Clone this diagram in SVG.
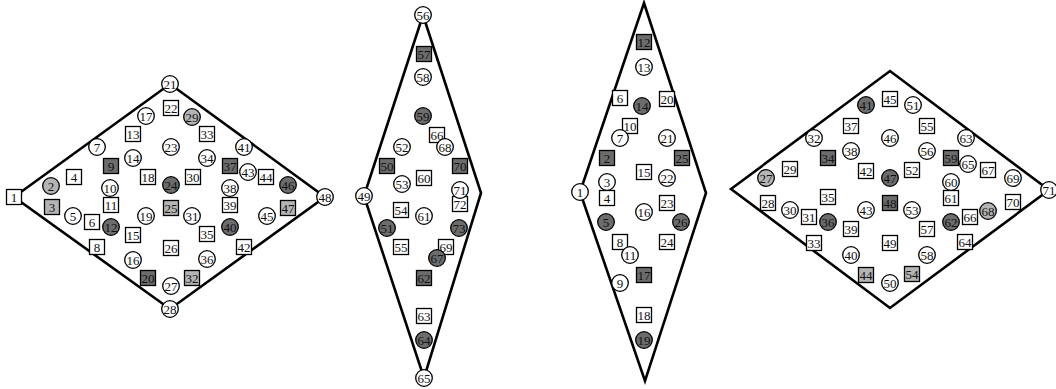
<svg xmlns="http://www.w3.org/2000/svg" width="1056" height="389" viewBox="0 0 1056 389">
<style>
.o{fill:none;stroke:#000;stroke-width:2.6;stroke-linejoin:miter}
.c,.cd,.cl,.s,.sd,.sl{stroke:#000;stroke-width:1.3}
.c,.s{fill:#fff}
.cd,.sd{fill:#6c6c6c}
.cl,.sl{fill:#b4b4b4}
text{font-family:"Liberation Serif","Times New Roman",serif;font-size:13px;text-anchor:middle;fill:#111}
</style>
<rect width="1056" height="389" fill="#fff"/>
<g id="outlines">
<polygon class="o" points="14,197 170,84 325,197 170,309"/>
<polygon class="o" points="423,15 481,193 424,378 364,196"/>
<polygon class="o" points="644,3 706,193 645,381 580,192"/>
<polygon class="o" points="731,189 890,71 1049,190 890,308"/>
</g>
<g id="diagram1">
<g id="d1-n1"><rect class="s" x="6.5" y="189.5" width="15" height="15"/><text x="14" y="201.5">1</text></g>
<g id="d1-n2"><circle class="cl" cx="51" cy="186" r="8.3"/><text x="51" y="190.5">2</text></g>
<g id="d1-n3"><rect class="sl" x="44.5" y="199.5" width="15" height="15"/><text x="52" y="211.5">3</text></g>
<g id="d1-n4"><rect class="s" x="66.5" y="169.5" width="15" height="15"/><text x="74" y="181.5">4</text></g>
<g id="d1-n5"><circle class="c" cx="73" cy="216" r="8.3"/><text x="73" y="220.5">5</text></g>
<g id="d1-n6"><rect class="s" x="84.5" y="214.5" width="15" height="15"/><text x="92" y="226.5">6</text></g>
<g id="d1-n7"><circle class="c" cx="97" cy="147" r="8.3"/><text x="97" y="151.5">7</text></g>
<g id="d1-n8"><rect class="s" x="89.5" y="239.5" width="15" height="15"/><text x="97" y="251.5">8</text></g>
<g id="d1-n9"><rect class="sd" x="103.5" y="158.5" width="15" height="15"/><text x="111" y="170.5">9</text></g>
<g id="d1-n11"><rect class="s" x="103.5" y="197.5" width="15" height="15"/><text x="111" y="209.5">11</text></g>
<g id="d1-n10"><circle class="c" cx="110" cy="188" r="8.3"/><text x="110" y="192.5">10</text></g>
<g id="d1-n12"><circle class="cd" cx="111" cy="227" r="8.3"/><text x="111" y="231.5">12</text></g>
<g id="d1-n13"><rect class="s" x="125.5" y="126.5" width="15" height="15"/><text x="133" y="138.5">13</text></g>
<g id="d1-n14"><circle class="c" cx="133" cy="158" r="8.3"/><text x="133" y="162.5">14</text></g>
<g id="d1-n15"><rect class="s" x="125.5" y="227.5" width="15" height="15"/><text x="133" y="239.5">15</text></g>
<g id="d1-n16"><circle class="c" cx="133" cy="260" r="8.3"/><text x="133" y="264.5">16</text></g>
<g id="d1-n17"><circle class="c" cx="146" cy="116" r="8.3"/><text x="146" y="120.5">17</text></g>
<g id="d1-n18"><rect class="s" x="140.5" y="169.5" width="15" height="15"/><text x="148" y="181.5">18</text></g>
<g id="d1-n19"><circle class="c" cx="146" cy="216" r="8.3"/><text x="146" y="220.5">19</text></g>
<g id="d1-n20"><rect class="sd" x="140.5" y="270.5" width="15" height="15"/><text x="148" y="282.5">20</text></g>
<g id="d1-n21"><circle class="c" cx="170" cy="84" r="8.3"/><text x="170" y="88.5">21</text></g>
<g id="d1-n22"><rect class="s" x="163.5" y="100.5" width="15" height="15"/><text x="171" y="112.5">22</text></g>
<g id="d1-n23"><circle class="c" cx="171" cy="147" r="8.3"/><text x="171" y="151.5">23</text></g>
<g id="d1-n24"><circle class="cd" cx="171" cy="185" r="8.3"/><text x="171" y="189.5">24</text></g>
<g id="d1-n25"><rect class="sl" x="163.5" y="200.5" width="15" height="15"/><text x="171" y="212.5">25</text></g>
<g id="d1-n26"><rect class="s" x="163.5" y="240.5" width="15" height="15"/><text x="171" y="252.5">26</text></g>
<g id="d1-n27"><circle class="c" cx="171" cy="286" r="8.3"/><text x="171" y="290.5">27</text></g>
<g id="d1-n28"><circle class="c" cx="170" cy="309" r="8.3"/><text x="170" y="313.5">28</text></g>
<g id="d1-n29"><circle class="cl" cx="192" cy="117" r="8.3"/><text x="192" y="121.5">29</text></g>
<g id="d1-n30"><rect class="s" x="185.5" y="169.5" width="15" height="15"/><text x="193" y="181.5">30</text></g>
<g id="d1-n31"><circle class="c" cx="192" cy="216" r="8.3"/><text x="192" y="220.5">31</text></g>
<g id="d1-n32"><rect class="sl" x="184.5" y="270.5" width="15" height="15"/><text x="192" y="282.5">32</text></g>
<g id="d1-n33"><rect class="s" x="199.5" y="126.5" width="15" height="15"/><text x="207" y="138.5">33</text></g>
<g id="d1-n34"><circle class="c" cx="207" cy="158" r="8.3"/><text x="207" y="162.5">34</text></g>
<g id="d1-n35"><rect class="s" x="199.5" y="226.5" width="15" height="15"/><text x="207" y="238.5">35</text></g>
<g id="d1-n36"><circle class="c" cx="207" cy="259" r="8.3"/><text x="207" y="263.5">36</text></g>
<g id="d1-n37"><rect class="sd" x="222.5" y="158.5" width="15" height="15"/><text x="230" y="170.5">37</text></g>
<g id="d1-n39"><rect class="s" x="222.5" y="197.5" width="15" height="15"/><text x="230" y="209.5">39</text></g>
<g id="d1-n38"><circle class="c" cx="230" cy="188" r="8.3"/><text x="230" y="192.5">38</text></g>
<g id="d1-n40"><circle class="cd" cx="230" cy="227" r="8.3"/><text x="230" y="231.5">40</text></g>
<g id="d1-n41"><circle class="c" cx="244" cy="147" r="8.3"/><text x="244" y="151.5">41</text></g>
<g id="d1-n42"><rect class="s" x="236.5" y="239.5" width="15" height="15"/><text x="244" y="251.5">42</text></g>
<g id="d1-n43"><circle class="c" cx="248" cy="172" r="8.3"/><text x="248" y="176.5">43</text></g>
<g id="d1-n44"><rect class="s" x="258.5" y="169.5" width="15" height="15"/><text x="266" y="181.5">44</text></g>
<g id="d1-n45"><circle class="c" cx="267" cy="216" r="8.3"/><text x="267" y="220.5">45</text></g>
<g id="d1-n46"><circle class="cd" cx="288" cy="185" r="8.3"/><text x="288" y="189.5">46</text></g>
<g id="d1-n47"><rect class="sl" x="280.5" y="200.5" width="15" height="15"/><text x="288" y="212.5">47</text></g>
<g id="d1-n48"><circle class="c" cx="325" cy="197" r="8.3"/><text x="325" y="201.5">48</text></g>
</g>
<g id="diagram2">
<g id="d2-n56"><circle class="c" cx="423" cy="15" r="8.3"/><text x="423" y="19.5">56</text></g>
<g id="d2-n57"><rect class="sd" x="416.5" y="46.5" width="15" height="15"/><text x="424" y="58.5">57</text></g>
<g id="d2-n58"><circle class="c" cx="423" cy="77" r="8.3"/><text x="423" y="81.5">58</text></g>
<g id="d2-n59"><circle class="cd" cx="423" cy="116" r="8.3"/><text x="423" y="120.5">59</text></g>
<g id="d2-n66"><rect class="s" x="429.5" y="127.5" width="15" height="15"/><text x="437" y="139.5">66</text></g>
<g id="d2-n68"><circle class="c" cx="445" cy="147" r="8.3"/><text x="445" y="151.5">68</text></g>
<g id="d2-n52"><circle class="c" cx="402" cy="147" r="8.3"/><text x="402" y="151.5">52</text></g>
<g id="d2-n50"><rect class="sd" x="379.5" y="158.5" width="15" height="15"/><text x="387" y="170.5">50</text></g>
<g id="d2-n70"><rect class="sd" x="452.5" y="158.5" width="15" height="15"/><text x="460" y="170.5">70</text></g>
<g id="d2-n60"><rect class="s" x="416.5" y="170.5" width="15" height="15"/><text x="424" y="182.5">60</text></g>
<g id="d2-n53"><circle class="c" cx="402" cy="184" r="8.3"/><text x="402" y="188.5">53</text></g>
<g id="d2-n72"><rect class="s" x="452.5" y="196.5" width="15" height="15"/><text x="460" y="208.5">72</text></g>
<g id="d2-n71"><circle class="c" cx="460" cy="190" r="8.3"/><text x="460" y="194.5">71</text></g>
<g id="d2-n49"><circle class="c" cx="364" cy="196" r="8.3"/><text x="364" y="200.5">49</text></g>
<g id="d2-n54"><rect class="s" x="393.5" y="202.5" width="15" height="15"/><text x="401" y="214.5">54</text></g>
<g id="d2-n61"><circle class="c" cx="424" cy="216" r="8.3"/><text x="424" y="220.5">61</text></g>
<g id="d2-n51"><circle class="cd" cx="387" cy="228" r="8.3"/><text x="387" y="232.5">51</text></g>
<g id="d2-n73"><circle class="cd" cx="459" cy="228" r="8.3"/><text x="459" y="232.5">73</text></g>
<g id="d2-n55"><rect class="s" x="393.5" y="239.5" width="15" height="15"/><text x="401" y="251.5">55</text></g>
<g id="d2-n69"><rect class="s" x="438.5" y="239.5" width="15" height="15"/><text x="446" y="251.5">69</text></g>
<g id="d2-n67"><circle class="cd" cx="437" cy="258" r="8.3"/><text x="437" y="262.5">67</text></g>
<g id="d2-n62"><rect class="sd" x="416.5" y="270.5" width="15" height="15"/><text x="424" y="282.5">62</text></g>
<g id="d2-n63"><rect class="s" x="416.5" y="308.5" width="15" height="15"/><text x="424" y="320.5">63</text></g>
<g id="d2-n64"><circle class="cd" cx="424" cy="340" r="8.3"/><text x="424" y="344.5">64</text></g>
<g id="d2-n65"><circle class="c" cx="424" cy="378" r="8.3"/><text x="424" y="382.5">65</text></g>
</g>
<g id="diagram3">
<g id="d3-n12"><rect class="sd" x="636.5" y="34.5" width="15" height="15"/><text x="644" y="46.5">12</text></g>
<g id="d3-n13"><circle class="c" cx="644" cy="67" r="8.3"/><text x="644" y="71.5">13</text></g>
<g id="d3-n6"><rect class="s" x="612.5" y="90.5" width="15" height="15"/><text x="620" y="102.5">6</text></g>
<g id="d3-n14"><circle class="cd" cx="642" cy="106" r="8.3"/><text x="642" y="110.5">14</text></g>
<g id="d3-n20"><rect class="s" x="659.5" y="91.5" width="15" height="15"/><text x="667" y="103.5">20</text></g>
<g id="d3-n10"><rect class="s" x="622.5" y="118.5" width="15" height="15"/><text x="630" y="130.5">10</text></g>
<g id="d3-n7"><circle class="c" cx="620" cy="138" r="8.3"/><text x="620" y="142.5">7</text></g>
<g id="d3-n21"><circle class="c" cx="667" cy="138" r="8.3"/><text x="667" y="142.5">21</text></g>
<g id="d3-n2"><rect class="sd" x="599.5" y="150.5" width="15" height="15"/><text x="607" y="162.5">2</text></g>
<g id="d3-n25"><rect class="sd" x="674.5" y="150.5" width="15" height="15"/><text x="682" y="162.5">25</text></g>
<g id="d3-n15"><rect class="s" x="636.5" y="164.5" width="15" height="15"/><text x="644" y="176.5">15</text></g>
<g id="d3-n22"><circle class="c" cx="667" cy="178" r="8.3"/><text x="667" y="182.5">22</text></g>
<g id="d3-n4"><rect class="s" x="599.5" y="190.5" width="15" height="15"/><text x="607" y="202.5">4</text></g>
<g id="d3-n3"><circle class="c" cx="607" cy="182" r="8.3"/><text x="607" y="186.5">3</text></g>
<g id="d3-n1"><circle class="c" cx="580" cy="192" r="8.3"/><text x="580" y="196.5">1</text></g>
<g id="d3-n23"><rect class="s" x="659.5" y="195.5" width="15" height="15"/><text x="667" y="207.5">23</text></g>
<g id="d3-n16"><circle class="c" cx="644" cy="212" r="8.3"/><text x="644" y="216.5">16</text></g>
<g id="d3-n5"><circle class="cd" cx="606" cy="222" r="8.3"/><text x="606" y="226.5">5</text></g>
<g id="d3-n26"><circle class="cd" cx="681" cy="222" r="8.3"/><text x="681" y="226.5">26</text></g>
<g id="d3-n8"><rect class="s" x="612.5" y="234.5" width="15" height="15"/><text x="620" y="246.5">8</text></g>
<g id="d3-n24"><rect class="s" x="659.5" y="234.5" width="15" height="15"/><text x="667" y="246.5">24</text></g>
<g id="d3-n11"><circle class="c" cx="630" cy="255" r="8.3"/><text x="630" y="259.5">11</text></g>
<g id="d3-n17"><rect class="sd" x="636.5" y="267.5" width="15" height="15"/><text x="644" y="279.5">17</text></g>
<g id="d3-n9"><circle class="c" cx="620" cy="283" r="8.3"/><text x="620" y="287.5">9</text></g>
<g id="d3-n18"><rect class="s" x="636.5" y="307.5" width="15" height="15"/><text x="644" y="319.5">18</text></g>
<g id="d3-n19"><circle class="cd" cx="644" cy="340" r="8.3"/><text x="644" y="344.5">19</text></g>
</g>
<g id="diagram4">
<g id="d4-n27"><circle class="cl" cx="766" cy="178" r="8.3"/><text x="766" y="182.5">27</text></g>
<g id="d4-n28"><rect class="s" x="760.5" y="195.5" width="15" height="15"/><text x="768" y="207.5">28</text></g>
<g id="d4-n29"><rect class="s" x="782.5" y="161.5" width="15" height="15"/><text x="790" y="173.5">29</text></g>
<g id="d4-n30"><circle class="c" cx="790" cy="210" r="8.3"/><text x="790" y="214.5">30</text></g>
<g id="d4-n31"><rect class="s" x="801.5" y="209.5" width="15" height="15"/><text x="809" y="221.5">31</text></g>
<g id="d4-n32"><circle class="c" cx="814" cy="138" r="8.3"/><text x="814" y="142.5">32</text></g>
<g id="d4-n33"><rect class="s" x="806.5" y="235.5" width="15" height="15"/><text x="814" y="247.5">33</text></g>
<g id="d4-n34"><rect class="sd" x="820.5" y="150.5" width="15" height="15"/><text x="828" y="162.5">34</text></g>
<g id="d4-n35"><rect class="s" x="820.5" y="189.5" width="15" height="15"/><text x="828" y="201.5">35</text></g>
<g id="d4-n36"><circle class="cd" cx="828" cy="222" r="8.3"/><text x="828" y="226.5">36</text></g>
<g id="d4-n37"><rect class="s" x="843.5" y="118.5" width="15" height="15"/><text x="851" y="130.5">37</text></g>
<g id="d4-n38"><circle class="c" cx="851" cy="151" r="8.3"/><text x="851" y="155.5">38</text></g>
<g id="d4-n39"><rect class="s" x="843.5" y="221.5" width="15" height="15"/><text x="851" y="233.5">39</text></g>
<g id="d4-n40"><circle class="c" cx="851" cy="255" r="8.3"/><text x="851" y="259.5">40</text></g>
<g id="d4-n41"><circle class="cd" cx="866" cy="105" r="8.3"/><text x="866" y="109.5">41</text></g>
<g id="d4-n42"><rect class="s" x="858.5" y="163.5" width="15" height="15"/><text x="866" y="175.5">42</text></g>
<g id="d4-n43"><circle class="c" cx="866" cy="210" r="8.3"/><text x="866" y="214.5">43</text></g>
<g id="d4-n44"><rect class="sl" x="858.5" y="267.5" width="15" height="15"/><text x="866" y="279.5">44</text></g>
<g id="d4-n45"><rect class="s" x="882.5" y="91.5" width="15" height="15"/><text x="890" y="103.5">45</text></g>
<g id="d4-n46"><circle class="c" cx="890" cy="138" r="8.3"/><text x="890" y="142.5">46</text></g>
<g id="d4-n47"><circle class="cd" cx="890" cy="178" r="8.3"/><text x="890" y="182.5">47</text></g>
<g id="d4-n48"><rect class="sd" x="882.5" y="195.5" width="15" height="15"/><text x="890" y="207.5">48</text></g>
<g id="d4-n49"><rect class="s" x="882.5" y="235.5" width="15" height="15"/><text x="890" y="247.5">49</text></g>
<g id="d4-n50"><circle class="c" cx="890" cy="283" r="8.3"/><text x="890" y="287.5">50</text></g>
<g id="d4-n51"><circle class="c" cx="913" cy="105" r="8.3"/><text x="913" y="109.5">51</text></g>
<g id="d4-n52"><rect class="s" x="904.5" y="162.5" width="15" height="15"/><text x="912" y="174.5">52</text></g>
<g id="d4-n53"><circle class="c" cx="912" cy="210" r="8.3"/><text x="912" y="214.5">53</text></g>
<g id="d4-n54"><rect class="sl" x="904.5" y="266.5" width="15" height="15"/><text x="912" y="278.5">54</text></g>
<g id="d4-n55"><rect class="s" x="919.5" y="118.5" width="15" height="15"/><text x="927" y="130.5">55</text></g>
<g id="d4-n56"><circle class="c" cx="927" cy="151" r="8.3"/><text x="927" y="155.5">56</text></g>
<g id="d4-n57"><rect class="s" x="919.5" y="221.5" width="15" height="15"/><text x="927" y="233.5">57</text></g>
<g id="d4-n58"><circle class="c" cx="927" cy="255" r="8.3"/><text x="927" y="259.5">58</text></g>
<g id="d4-n59"><rect class="sd" x="943.5" y="150.5" width="15" height="15"/><text x="951" y="162.5">59</text></g>
<g id="d4-n61"><rect class="s" x="943.5" y="190.5" width="15" height="15"/><text x="951" y="202.5">61</text></g>
<g id="d4-n60"><circle class="c" cx="951" cy="182" r="8.3"/><text x="951" y="186.5">60</text></g>
<g id="d4-n62"><circle class="cd" cx="951" cy="222" r="8.3"/><text x="951" y="226.5">62</text></g>
<g id="d4-n63"><circle class="c" cx="966" cy="138" r="8.3"/><text x="966" y="142.5">63</text></g>
<g id="d4-n64"><rect class="s" x="957.5" y="234.5" width="15" height="15"/><text x="965" y="246.5">64</text></g>
<g id="d4-n65"><circle class="c" cx="968" cy="164" r="8.3"/><text x="968" y="168.5">65</text></g>
<g id="d4-n66"><rect class="s" x="962.5" y="209.5" width="15" height="15"/><text x="970" y="221.5">66</text></g>
<g id="d4-n67"><rect class="s" x="980.5" y="162.5" width="15" height="15"/><text x="988" y="174.5">67</text></g>
<g id="d4-n68"><circle class="cl" cx="988" cy="211" r="8.3"/><text x="988" y="215.5">68</text></g>
<g id="d4-n69"><circle class="c" cx="1013" cy="178" r="8.3"/><text x="1013" y="182.5">69</text></g>
<g id="d4-n70"><rect class="s" x="1005.5" y="194.5" width="15" height="15"/><text x="1013" y="206.5">70</text></g>
<g id="d4-n71"><circle class="c" cx="1049" cy="190" r="8.3"/><text x="1049" y="194.5">71</text></g>
</g>
</svg>
